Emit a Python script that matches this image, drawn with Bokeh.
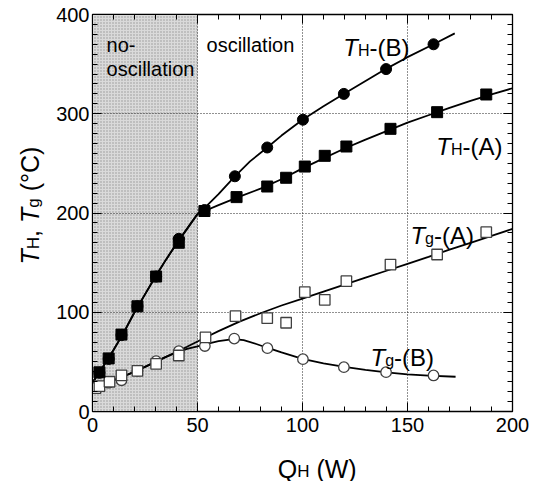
import math
from bokeh.plotting import figure
from bokeh.models import (Range1d, LinearAxis, SingleIntervalTicker, BoxAnnotation, Label,
                          CustomJSTickFormatter)
from bokeh.core.properties import value
from bokeh.embed import file_html
from bokeh.resources import INLINE

# ---------------- data ----------------
# T_H-(B): filled circles
thb_x = [3.3, 7.7, 13.8, 21.4, 30.3, 41.1, 53.3, 67.8, 83.2, 100.2, 119.7, 139.8, 162.4]
thb_y = [39, 53, 77, 106, 136, 174, 203, 237, 266, 294, 320, 345, 370]
# T_H-(A): filled squares
tha_x = [3.3, 7.7, 13.8, 21.4, 30.3, 41.1, 53.3, 68.6, 83.2, 92.2, 101.1, 110.6, 120.9, 141.9, 164.1, 187.5]
tha_y = [39.5, 53.5, 77.5, 106, 136, 170, 202, 216, 226.7, 235.5, 246.8, 257.6, 267, 284.8, 301.6, 319.4]
# T_g-(A): open squares
tga_x = [1.4, 3.3, 8.1, 13.8, 21.4, 30.3, 41.1, 53.8, 68.1, 83.2, 92.2, 101.1, 110.6, 120.9, 141.9, 164.1, 187.5]
tga_y = [23.5, 25.5, 30, 36.3, 41, 48, 56.4, 74.6, 96, 94, 89.4, 120.2, 112.5, 131.3, 148, 158.2, 180.7]
# T_g-(B): open circles
tgb_x = [3.3, 7.7, 13.8, 21.4, 30.3, 41.1, 53.5, 67.5, 83.3, 100.2, 119.7, 139.8, 162.4]
tgb_y = [25, 29, 31.5, 41, 50.7, 60.8, 66, 73.5, 63.8, 52.7, 44.7, 39.6, 36.3]

# fitted curves
cb_x = [0, 5, 10, 15, 20, 25, 30, 35, 40, 45, 50, 53.3, 60, 67.8, 75, 83.2, 90, 100, 110, 120, 130, 140, 150, 162.4, 172.5]
cb_y = [29, 45, 62, 80, 100, 118, 136, 153, 169, 184, 199, 205, 219, 237, 252, 266, 278, 294, 307.5, 320.5, 333, 345.5, 357, 370, 381]
ca_x = [0, 5, 10, 15, 20, 25, 30, 35, 40, 45, 50, 60, 70, 80, 90, 100, 110, 120, 130, 140, 150, 160, 170, 180, 190, 200]
ca_y = [29, 45, 62, 80, 100, 118, 136, 153, 169, 184, 199, 208, 216.5, 224.5, 234, 245, 255, 265, 274, 282.5, 291, 298.5, 306, 313, 319.5, 325.7]
cga_x = [0, 5, 10, 15, 20, 25, 30, 35, 40, 45, 50, 55, 60, 70, 80, 90, 100, 110, 120, 130, 140, 150, 160, 170, 180, 190, 200]
cga_y = [23, 27, 31.5, 35.5, 40.2, 45, 50, 55, 60, 65.2, 70.5, 75.8, 81, 90.5, 99, 106.8, 113.8, 120.8, 127.8, 134.8, 141.8, 148.8, 155.8, 163, 170, 177, 184]
cgb_x = [0, 5, 10, 15, 20, 25, 30, 35, 40, 45, 50, 55, 60, 67, 72, 78, 83.5, 90, 100, 110, 120, 130, 140, 150, 160, 172.9]
cgb_y = [23, 27, 31.5, 35.5, 40.2, 45, 50, 55, 59.5, 63, 65.7, 68.5, 71, 73, 72, 68, 64, 59.5, 53, 48.5, 45, 42, 39.5, 37.5, 36.2, 35]

x_ticks_major = 50
y_ticks_major = 100
no_osc_limit = 50

FONT = "Liberation Sans"
NB = "\u00a0"

p = figure(width=536, height=481, output_backend="svg", toolbar_location=None,
           x_range=Range1d(0, 200), y_range=Range1d(0, 400),
           min_border_left=92, min_border_right=24, min_border_top=14, min_border_bottom=70)
p.background_fill_color = "white"
p.border_fill_color = "white"
p.outline_line_color = "black"
p.outline_line_width = 1.3

# shaded no-oscillation region
shade = BoxAnnotation(left=0, right=no_osc_limit, fill_color="#dadada", fill_alpha=1.0,
                      hatch_pattern="dot", hatch_color="#959595", hatch_scale=3, hatch_weight=0.8,
                      line_color=None, level="image")
p.add_layout(shade)

# axes & ticks
for ax in (p.xaxis[0], p.yaxis[0]):
    ax.major_label_text_font = FONT
    ax.major_label_text_font_size = "20px"
    ax.major_label_text_color = "black"
    ax.major_tick_in = 9
    ax.major_tick_out = 0
    ax.minor_tick_in = 5
    ax.minor_tick_out = 0
    ax.axis_line_color = "black"
    ax.major_tick_line_color = "black"
    ax.minor_tick_line_color = "black"
    ax.axis_label = None
p.xaxis[0].ticker = SingleIntervalTicker(interval=x_ticks_major, num_minor_ticks=5)
p.yaxis[0].ticker = SingleIntervalTicker(interval=y_ticks_major, num_minor_ticks=10)
p.xaxis[0].major_label_standoff = 6
p.yaxis[0].major_label_standoff = 3

top = LinearAxis(ticker=SingleIntervalTicker(interval=x_ticks_major, num_minor_ticks=5))
right = LinearAxis(ticker=SingleIntervalTicker(interval=y_ticks_major, num_minor_ticks=10))
for ax in (top, right):
    ax.formatter = CustomJSTickFormatter(code="return ''")
    ax.major_label_standoff = 0
    ax.major_tick_in = 9
    ax.major_tick_out = 0
    ax.minor_tick_in = 5
    ax.minor_tick_out = 0
    ax.axis_line_color = "black"
p.add_layout(top, "above")
p.add_layout(right, "right")

for g in (p.xgrid[0], p.ygrid[0]):
    g.grid_line_color = "#222222"
    g.grid_line_dash = "1 2"
    g.grid_line_width = 1
p.xgrid[0].ticker = SingleIntervalTicker(interval=x_ticks_major)
p.ygrid[0].ticker = SingleIntervalTicker(interval=y_ticks_major)

# curves
for cx, cy in ((cb_x, cb_y), (ca_x, ca_y), (cga_x, cga_y), (cgb_x, cgb_y)):
    p.line(cx, cy, line_color="black", line_width=1.8)

# markers
p.scatter(tgb_x, tgb_y, marker="circle", size=10.5, fill_color="white", line_color="#404040", line_width=1.3)
p.scatter(tga_x, tga_y, marker="square", size=10.5, fill_color="white", line_color="#404040", line_width=1.3)
p.scatter(thb_x, thb_y, marker="circle", size=11, fill_color="black", line_color="black")
p.scatter(tha_x, tha_y, marker="square", size=11, fill_color="black", line_color="black")

# ---------------- text helpers ----------------
PXX = 420 / 200.0   # px per x unit
PXY = 397 / 400.0   # px per y unit
WID = {'T': 0.611, 'H': 0.722, 'g': 0.556, 'Q': 0.778, '-': 0.333, '(': 0.333, ')': 0.333,
       'A': 0.667, 'B': 0.667, 'W': 0.944, ' ': 0.278, NB: 0.278, ',': 0.278, '°': 0.4, 'C': 0.722}

def tw(s, size):
    return sum(WID.get(c, 0.556) for c in s) * size

def rich(x0, y0, pieces, size=24, sub=16, shift=3):
    """In-frame rich label made of Label annotations."""
    cum = 0.0
    for txt, kind in pieces:
        fs = sub if kind == "sub" else size
        style = "italic" if kind == "it" else "normal"
        dshift = shift if kind == "sub" else 0
        p.add_layout(Label(x=x0 + cum / PXX, y=y0 - dshift / PXY, text=txt, text_font=FONT,
                           text_font_size=f"{fs}px", text_font_style=style, text_color="black",
                           text_align="left", text_baseline="alphabetic"))
        cum += tw(txt, fs)

def rich_outside(ax_, ay_, pieces, size, sub, shift, dx, dy, vertical=False):
    """Axis-title rich text drawn as unclipped text glyphs anchored at a point inside the frame."""
    total = sum(tw(t, sub if k == "sub" else size) for t, k in pieces)
    cum = 0.0
    for txt, kind in pieces:
        fs = sub if kind == "sub" else size
        style = "italic" if kind == "it" else "normal"
        dshift = shift if kind == "sub" else 0
        if vertical:
            xo, yo, ang = dx + dshift, dy + total / 2 - cum, math.pi / 2
        else:
            xo, yo, ang = dx - total / 2 + cum, dy + dshift, 0
        p.text(x=[ax_], y=[ay_], text=[txt], x_offset=xo, y_offset=yo, angle=ang,
               text_font=value(FONT), text_font_size=value(f"{fs}px"),
               text_font_style=value(style), text_align=value("left"),
               text_baseline=value("alphabetic"), text_color="black", level="overlay")
        cum += tw(txt, fs)

def series_label(x0, y0, s, tail):
    rich(x0, y0, [("T", "it"), (s, "sub"), (tail, "n")], size=24, sub=16, shift=3)

series_label(119.4, 367.0, "H", "-(B)")
series_label(163.7, 267.3, "H", "-(A)")
series_label(151.4, 177.3, "g", "-(A)")
series_label(132.4, 54.7, "g", "-(B)")

# region labels
for txt, xx, yy in (("no-", 6.7, 368.8), ("oscillation", 6.7, 344.6), ("oscillation", 54.3, 368.8)):
    p.add_layout(Label(x=xx, y=yy, text=txt, text_font=FONT, text_font_size="20px",
                       text_color="black", text_align="left", text_baseline="alphabetic"))

# x axis title: Q_H (W)  (anchored inside the frame, shifted down below it)
xl = [("Q", "n"), ("H", "sub"), (NB + "(W)", "n")]
rich_outside(107.0, 2.0, xl, size=25, sub=17, shift=3, dx=0, dy=57 + 2 * PXY)

# y axis title: T_H, T_g (°C)
yl = [("T", "it"), ("H", "sub"), ("," + NB, "n"), ("T", "it"), ("g", "sub"), (NB + "(°C)", "n")]
rich_outside(2.0, 207.5, yl, size=25, sub=17, shift=3, dx=-62 - 2 * PXX, dy=0, vertical=True)

open("out.html", "w").write(file_html(p, INLINE))
